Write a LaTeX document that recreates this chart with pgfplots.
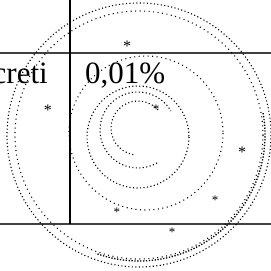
\documentclass[border=0pt]{standalone}
\usepackage{pgfplots}
\pgfplotsset{compat=1.18}
\usepackage{fontspec}
\setmainfont{Liberation Serif}
\tikzset{stamp/.style={black, line width=1.1pt, dash pattern=on 1.1pt off 2.4pt}}
\begin{document}
\begin{tikzpicture}
\useasboundingbox (0,0) rectangle (271pt,271pt);
\begin{axis}[
  at={(0,0)}, anchor=south west,
  scale only axis, width=271pt, height=271pt,
  xmin=0, xmax=271, ymin=0, ymax=271, y dir=reverse,
  hide axis, clip=false,
]
% table rules
\addplot[black!75, line width=2pt] coordinates {(0,53) (271,53)};
\addplot[black!75, line width=2pt] coordinates {(0,224) (271,224)};
\addplot[black, line width=1.4pt] coordinates {(70,0) (70,224)};
% cell texts
\node[anchor=base east, inner sep=0pt, text=black] at (axis cs:48,83) {\fontsize{31}{31}\selectfont creti};
\node[anchor=base west, inner sep=0pt, text=black] at (axis cs:85,83) {\fontsize{31}{31}\selectfont 0,01\%};
% stamp rings
\draw[stamp] (axis cs:139,135) circle[radius=132];
\draw[stamp, line width=1.3pt, dash pattern=on 1.3pt off 1.6pt] (axis cs:139,135) ++(-10:126) arc[start angle=-10, end angle=110, radius=126];
\draw[stamp, dash pattern=on 1pt off 3.5pt] (axis cs:139,135) circle[radius=124];
\draw[stamp, dash pattern=on 1pt off 3.5pt] (axis cs:146,133) circle[radius=77];
\draw[stamp] (axis cs:138,137) circle[radius=51];
\draw[stamp] (axis cs:138,130) ++(60:38) arc[start angle=60, end angle=330, radius=38];
\draw[stamp] (axis cs:138,128) ++(100:27) arc[start angle=100, end angle=320, radius=27];
% small star marks of the stamp
\node[black, font=\fontsize{16}{16}\selectfont] at (axis cs:48,110) {*};
\node[black, font=\fontsize{16}{16}\selectfont] at (axis cs:127,46) {*};
\node[black, font=\fontsize{16}{16}\selectfont] at (axis cs:242,152) {*};
\node[black, font=\fontsize{13}{13}\selectfont] at (axis cs:156,109) {*};
\node[black, font=\fontsize{13}{13}\selectfont] at (axis cs:117,212) {*};
\node[black, font=\fontsize{13}{13}\selectfont] at (axis cs:172,232) {*};
\node[black, font=\fontsize{13}{13}\selectfont] at (axis cs:215,200) {*};
\end{axis}
\end{tikzpicture}
\end{document}
